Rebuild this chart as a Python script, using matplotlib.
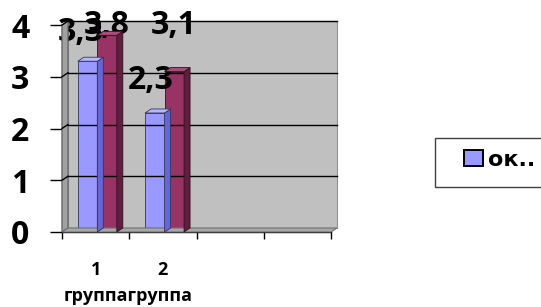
import matplotlib
matplotlib.use('Agg')
import matplotlib.pyplot as plt
from matplotlib.patches import Polygon, Rectangle, Patch

categories = ['1', '2', '', '']
series1_values = [3.3, 2.3]
series2_values = [3.8, 3.1]
series1_labels = ['3,3', '2,3']
series2_labels = ['3,8', '3,1']
legend_label = 'ок..'
group_label = 'группагруппа'
y_ticks = [0, 1, 2, 3, 4]

plt.rcParams['font.family'] = ['Open Sans', 'DejaVu Sans']
W, H = 541, 307
fig = plt.figure(figsize=(W / 100, H / 100), dpi=100)


def fx(px):
    return px / W


def fy(py):
    return 1 - py / H


ax = fig.add_axes([fx(62), fy(232), fx(331) - fx(62), fy(25) - fy(232)])
ax.set_xlim(0, len(categories))
ax.set_ylim(0, 4)
ax.set_facecolor('none')

DX, DY = 6, 4  # 3D depth in pixels


def disp(x, y):
    return ax.transData.transform((x, y))


def off(p):
    return (p[0] + DX, p[1] + DY)


# back wall, side wall and floor
p00, p40, p44, p04 = disp(0, 0), disp(4, 0), disp(4, 4), disp(0, 4)
fig.add_artist(Polygon([off(p00), off(p40), off(p44), off(p04)], closed=True,
                       facecolor='#C0C0C0', edgecolor='#909090', lw=0.8,
                       transform=None, zorder=0))
fig.add_artist(Polygon([p00, p04, off(p04), off(p00)], closed=True,
                       facecolor='#A0A0A0', edgecolor='#606060', lw=0.8,
                       transform=None, zorder=0.5))
fig.add_artist(Polygon([p00, p40, off(p40), off(p00)], closed=True,
                       facecolor='#A8A8A8', edgecolor='#707070', lw=0.8,
                       transform=None, zorder=0.5))

for v in y_ticks[1:]:
    a, b = disp(0, v), disp(4, v)
    fig.add_artist(plt.Line2D([off(a)[0], off(b)[0]], [off(a)[1], off(b)[1]],
                              color='black', lw=1, transform=None, zorder=1))
    fig.add_artist(plt.Line2D([a[0], off(a)[0]], [a[1], off(a)[1]],
                              color='black', lw=1, transform=None, zorder=1))

# bars
width = 0.29
x1 = [i + 0.38 for i in range(len(series1_values))]
x2 = [i + 0.67 for i in range(len(series2_values))]
b1 = ax.bar(x1, series1_values, width=width, color='#9999FF',
            edgecolor='#333366', lw=0.6, zorder=3)
b2 = ax.bar(x2, series2_values, width=width, color='#993366',
            edgecolor='#330F22', lw=0.6, zorder=3)


def add_3d(bars, side_c, top_c, edge_c):
    for r in bars:
        x0, y0 = r.get_x(), r.get_y()
        xr, yt = x0 + r.get_width(), y0 + r.get_height()
        br, tr, tl = disp(xr, y0), disp(xr, yt), disp(x0, yt)
        fig.add_artist(Polygon([br, tr, off(tr), off(br)], closed=True,
                               facecolor=side_c, edgecolor=edge_c, lw=0.6,
                               transform=None, zorder=2.5))
        fig.add_artist(Polygon([tl, tr, off(tr), off(tl)], closed=True,
                               facecolor=top_c, edgecolor=edge_c, lw=0.6,
                               transform=None, zorder=2.5))


add_3d(b1, '#6666CC', '#B8B8FF', '#333366')
add_3d(b2, '#5C1F3D', '#A64D79', '#330F22')

# data labels (offsets in pixels, Excel-like placement)
lab_font = dict(fontsize=23, fontweight='bold', color='black')
offs1 = [(-7, 33), (-4, 36)]
offs2 = [(0, 14), (-1, 50)]
for r, t, o in zip(b1, series1_labels, offs1):
    ax.annotate(t, (r.get_x() + r.get_width() / 2, r.get_height()),
                xytext=o, textcoords='offset pixels', ha='center',
                va='center_baseline', zorder=6, annotation_clip=False,
                **lab_font)
for r, t, o in zip(b2, series2_labels, offs2):
    ax.annotate(t, (r.get_x() + r.get_width() / 2, r.get_height()),
                xytext=o, textcoords='offset pixels', ha='center',
                va='center_baseline', zorder=6, annotation_clip=False,
                **lab_font)

# axes
for s in ['top', 'right']:
    ax.spines[s].set_visible(False)
for s in ['left', 'bottom']:
    ax.spines[s].set_color('black')
    ax.spines[s].set_linewidth(1)
    ax.spines[s].set_zorder(4)
ax.set_yticks(y_ticks)
ax.set_yticklabels([str(v) for v in y_ticks], fontsize=23, fontweight='bold')
ax.tick_params(axis='y', direction='out', length=8.5, width=1, pad=15)
ax.set_xticks(range(len(categories) + 1))
ax.set_xticklabels([])
ax.tick_params(axis='x', which='major', direction='out', length=5, width=1)
ax.set_xticks([i + 0.5 for i in range(len(categories))], minor=True)
ax.set_xticklabels(categories, minor=True, fontsize=13, fontweight='bold')
ax.tick_params(axis='x', which='minor', length=0, pad=21)
ax.text(0.99, -(296 - 232) / 207, group_label, transform=ax.get_xaxis_transform(),
        ha='center', va='center', fontsize=13, fontweight='bold')

# legend
fig.add_artist(Rectangle((fx(435), fy(187)), fx(560) - fx(435), fy(138) - fy(187),
                         transform=fig.transFigure, facecolor='white',
                         edgecolor='#404040', lw=1, clip_on=False))
fig.legend(handles=[Patch(facecolor='#9999FF', edgecolor='black', lw=1.4)],
           labels=[legend_label], loc='center left',
           bbox_to_anchor=(fx(464), fy(160)), frameon=False,
           prop=dict(size=16, weight='bold', family='DejaVu Sans'),
           handlelength=0.85, handleheight=0.75, handletextpad=0.25,
           borderpad=0, borderaxespad=0)

fig.savefig('out.png', dpi=100)
